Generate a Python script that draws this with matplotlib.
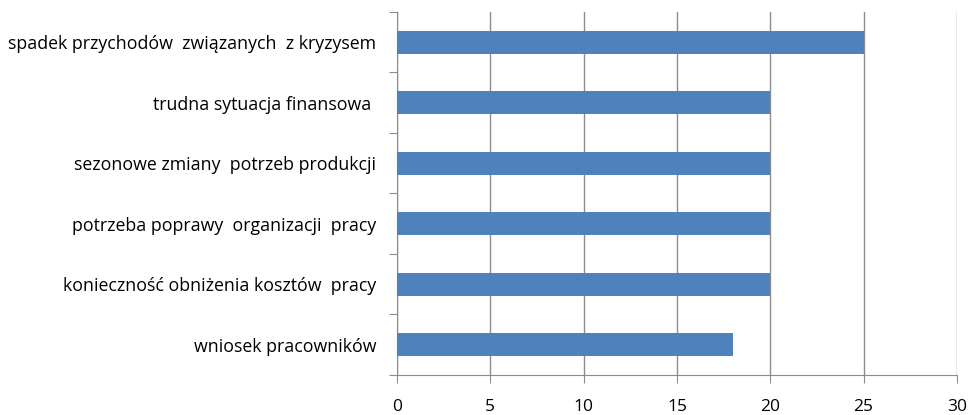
import matplotlib.pyplot as plt
import numpy as np

categories = ['wniosek pracowników',
              'konieczność obniżenia kosztów  pracy',
              'potrzeba poprawy  organizacji  pracy',
              'sezonowe zmiany  potrzeb produkcji',
              'trudna sytuacja finansowa ',
              'spadek przychodów  związanych  z kryzysem']
values = [18, 20, 20, 20, 20, 25]
xticks = [0, 5, 10, 15, 20, 25, 30]

plt.rcParams['font.family'] = ['Open Sans', 'DejaVu Sans']

fig = plt.figure(figsize=(9.68, 4.15), dpi=100)
ax = fig.add_axes([0.410, 0.0964, 0.5786, 0.8747])

pos = np.arange(len(categories))
ax.barh(pos, values, height=0.38, color='#4F81BD', zorder=3)

ax.set_xlim(0, 30)
ax.set_ylim(-0.5, len(categories) - 0.5)
ax.set_xticks(xticks)
ax.set_xticklabels([str(t) for t in xticks], fontsize=12.5)
ax.xaxis.grid(True, color='#8C8C8C', linewidth=1, zorder=0)

# boundaries get the tick marks, centres get the labels
ax.set_yticks(np.arange(len(categories) + 1) - 0.5)
ax.set_yticklabels([])
ax.set_yticks(pos, minor=True)
ax.set_yticklabels(categories, minor=True, fontsize=12.8)
ax.tick_params(axis='y', which='minor', length=0, pad=15)
ax.tick_params(axis='y', which='major', length=6, color='#8C8C8C')
ax.tick_params(axis='x', length=6, color='#8C8C8C', pad=11)

for s in ['top', 'right']:
    ax.spines[s].set_visible(False)
for s in ['left', 'bottom']:
    ax.spines[s].set_color('#8C8C8C')

fig.savefig('out.png', dpi=100)
